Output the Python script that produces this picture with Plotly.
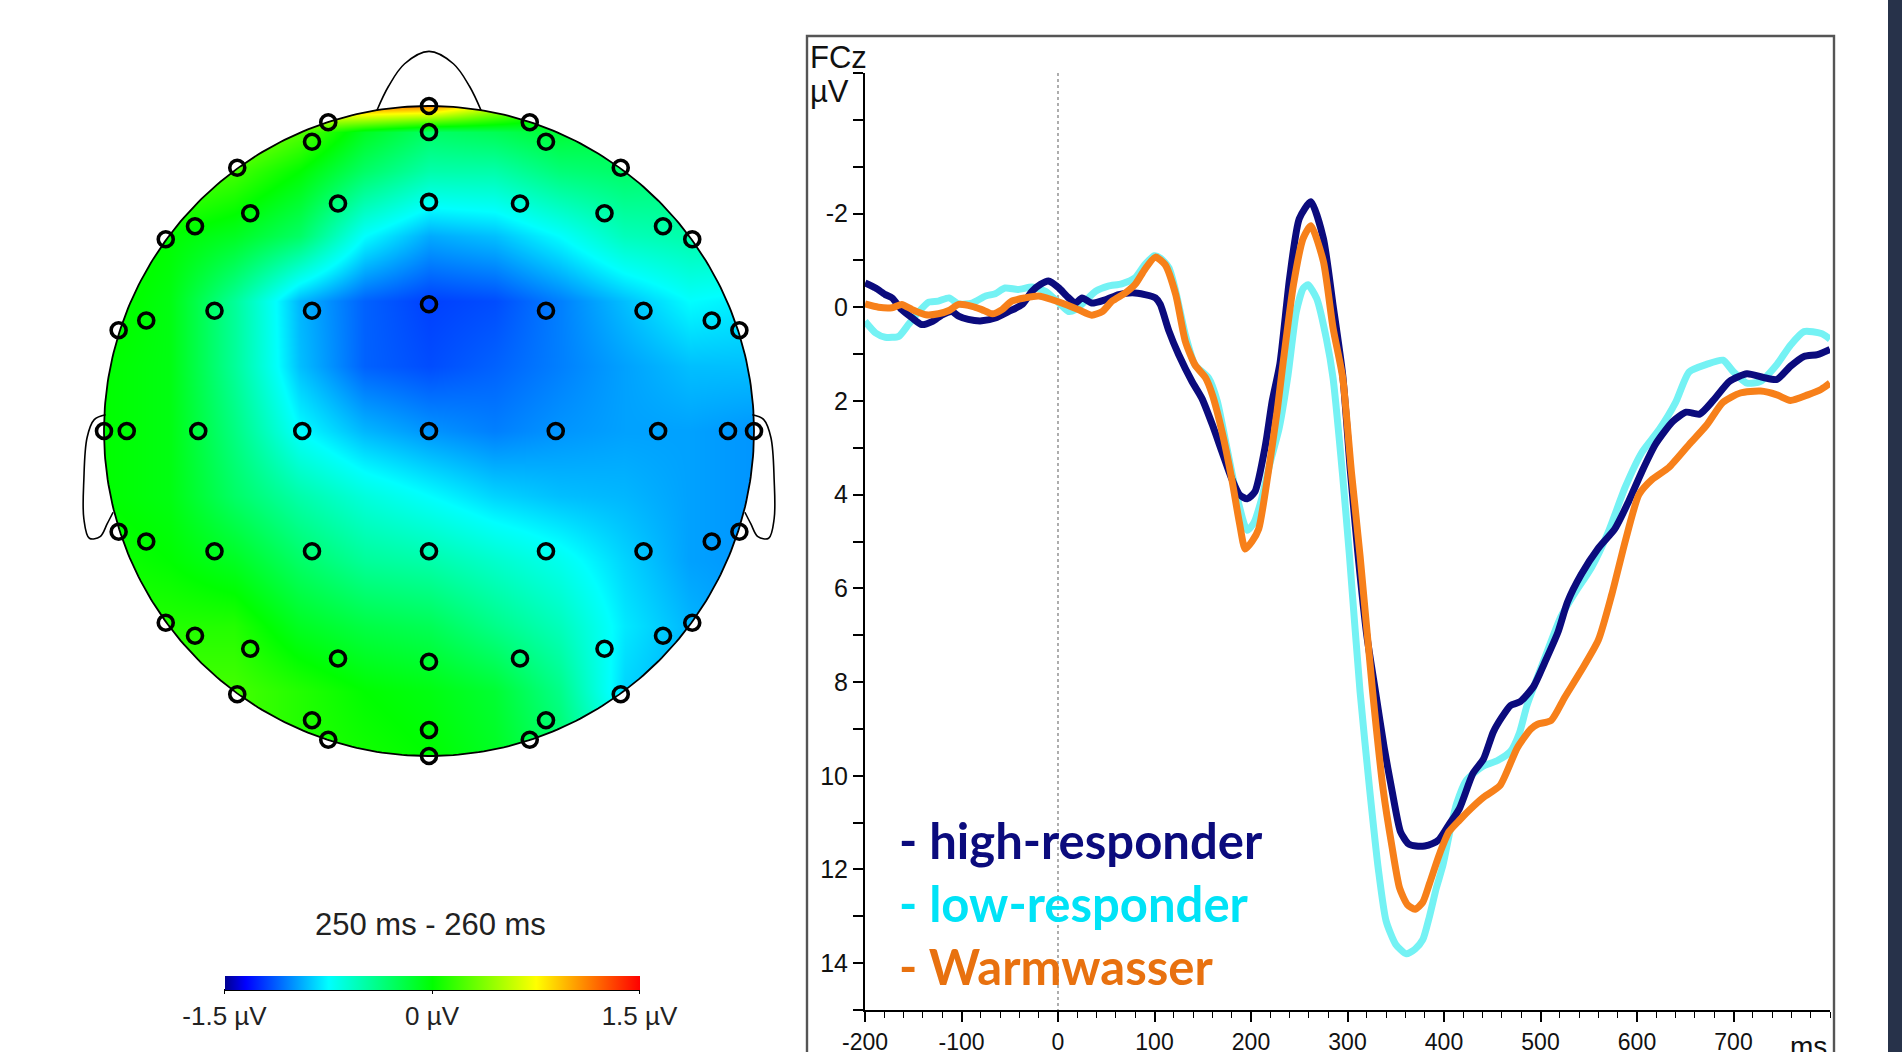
import numpy as np
import plotly.graph_objects as go

W, H = 1902, 1052


def px(x):
    return x / W


def py(y):
    return 1 - y / H


# ---------------- ERP data (FCz, µV; negative up) ----------------
HIGH_T = [-200, -189, -179, -172, -162, -151, -141, -130, -120, -110,
          -103, -93, -79, -65, -51, -37, -27, -18, -10, 1,
          9, 18, 25, 35, 49, 63, 77, 90, 101, 106,
          115, 125, 139, 149, 160, 170, 180, 188, 196, 204,
          215, 222, 230, 240, 250, 262, 275, 285, 295, 303,
          311, 320, 329, 338, 346, 355, 363, 371, 380, 388,
          395, 405, 416, 430, 441, 451, 460, 469, 479, 493,
          504, 518, 528, 542, 560, 577, 591, 605, 619, 637,
          651, 665, 679, 696, 714, 731, 745, 759, 773, 787,
          800]
HIGH_UV = [-0.52, -0.41, -0.27, -0.2, 0.05, 0.23, 0.37, 0.3, 0.16, 0.09,
           0.19, 0.26, 0.29, 0.23, 0.09, -0.06, -0.34, -0.49, -0.56, -0.41,
           -0.24, -0.09, -0.2, -0.09, -0.16, -0.27, -0.31, -0.27, -0.2, -0.06,
           0.51, 1.01, 1.59, 1.94, 2.51, 3.09, 3.66, 4.0, 4.09, 3.94,
           2.94, 2.0, 1.2, -0.62, -1.89, -2.25, -1.47, -0.05, 1.44, 3.5,
           5.3, 7.0, 8.2, 9.4, 10.3, 11.2, 11.45, 11.5, 11.5, 11.45,
           11.36, 11.05, 10.7, 9.95, 9.64, 9.07, 8.75, 8.5, 8.42, 8.09,
           7.6, 6.94, 6.29, 5.71, 5.14, 4.73, 4.16, 3.51, 2.93, 2.44,
           2.24, 2.28, 1.99, 1.58, 1.42, 1.50, 1.54, 1.26, 1.05, 1.01,
           0.9]

LOW = [(-200, 0.3), (-189, 0.55), (-179, 0.64), (-165, 0.62), (-155, 0.37),
       (-144, 0.09), (-134, -0.11), (-124, -0.13), (-113, -0.2), (-103, -0.07),
       (-89, -0.09), (-75, -0.24), (-65, -0.29), (-55, -0.41), (-41, -0.38),
       (-27, -0.43), (-13, -0.34), (1, -0.09), (11, 0.09), (18, 0.05),
       (28, -0.13), (39, -0.34), (52, -0.45), (66, -0.5), (80, -0.63),
       (90, -0.91), (100, -1.1), (106, -1.05), (115, -0.84), (122, -0.34),
       (132, 0.59), (142, 1.23), (156, 1.51), (165, 2.0), (175, 3.0),
       (185, 4.0), (196, 4.76), (203, 4.6), (211, 4.09), (220, 3.3),
       (229, 2.6), (238, 1.5), (247, 0.09), (254, -0.4), (259, -0.48),
       (268, -0.19), (278, 0.66), (285, 1.51), (295, 3.6), (302, 5.3),
       (313, 8.2), (323, 10.3), (332, 12.0), (340, 13.1), (350, 13.6),
       (361, 13.8), (370, 13.7), (378, 13.5), (385, 13.0), (392, 12.4),
       (399, 11.9), (406, 11.2), (413, 10.6), (423, 10.1), (440, 9.8),
       (455, 9.68), (469, 9.48), (478, 9.1), (486, 8.5), (504, 7.51),
       (521, 6.61), (535, 6.12), (553, 5.55), (570, 4.81), (588, 3.83),
       (605, 3.1), (623, 2.61), (640, 2.03), (654, 1.38), (672, 1.22),
       (689, 1.13), (700, 1.38), (714, 1.62), (728, 1.58), (745, 1.22),
       (759, 0.81), (773, 0.52), (791, 0.56), (800, 0.68)]

WARM = [(-200, -0.07), (-186, 0.0), (-172, 0.01), (-162, -0.06), (-151, 0.05),
        (-137, 0.16), (-124, 0.14), (-113, 0.07), (-103, -0.06), (-89, -0.02),
        (-79, 0.05), (-68, 0.14), (-58, 0.05), (-48, -0.13), (-34, -0.2),
        (-20, -0.24), (-6, -0.16), (8, -0.06), (21, 0.05), (35, 0.17),
        (46, 0.09), (56, -0.13), (70, -0.31), (80, -0.49), (90, -0.81),
        (101, -1.07), (111, -0.91), (122, -0.27), (132, 0.73), (142, 1.23),
        (153, 1.51), (160, 1.87), (170, 2.66), (180, 3.66), (188, 4.6),
        (194, 5.16), (201, 5.0), (208, 4.73), (218, 3.51), (227, 2.23),
        (233, 1.23), (244, -0.48), (254, -1.47), (262, -1.74), (275, -0.98),
        (285, 0.44), (295, 1.5), (304, 3.5), (313, 5.3), (326, 8.2),
        (337, 10.3), (346, 11.5), (354, 12.4), (362, 12.75), (370, 12.85),
        (378, 12.7), (385, 12.3), (395, 11.69), (405, 11.2), (416, 10.95),
        (428, 10.7), (441, 10.46), (458, 10.21), (476, 9.4), (490, 9.0),
        (497, 8.9), (511, 8.82), (525, 8.33), (542, 7.76), (560, 7.1),
        (574, 6.12), (588, 4.98), (602, 4.0), (616, 3.67), (633, 3.42),
        (654, 2.93), (672, 2.52), (689, 2.03), (707, 1.83), (728, 1.79),
        (745, 1.87), (759, 1.99), (777, 1.87), (791, 1.75), (800, 1.62)]

SERIES_NAMES = ["high-responder", "low-responder", "Warmwasser"]
LINE_COLORS = ["#0b0b7d", "#74f2f4", "#f7801a"]
TEXT_COLORS = ["#0b0b7d", "#00e3f7", "#e8710f"]

X_TICKS = [-200, -100, 0, 100, 200, 300, 400, 500, 600, 700]
Y_TICKS = list(range(-5, 16))
Y_LABELS = [str(v) if (v % 2 == 0 and -2 <= v <= 14) else "" for v in Y_TICKS]

# ---------------- Topomap data (250-260 ms) ----------------
MAP_U = [-1.0, -0.8, -0.6, -0.4, -0.2, 0.0, 0.2, 0.4, 0.6, 0.8, 1.0]
MAP_V = [1.0, 0.92, 0.8, 0.6, 0.4, 0.2, 0.0, -0.2, -0.4, -0.6, -0.8, -1.0]
MAP_Z = [
    [0.3, 0.5, 0.7, 0.9, 1.15, 1.1, 0.6, 0.0, -0.2, -0.3, -0.4],
    [0.2, 0.35, 0.45, 0.25, -0.1, -0.3, -0.25, -0.15, -0.2, -0.3, -0.4],
    [0.3, 0.3, 0.2, 0.0, -0.3, -0.5, -0.5, -0.35, -0.3, -0.35, -0.45],
    [0.1, 0.0, -0.1, -0.3, -0.75, -0.95, -0.9, -0.75, -0.55, -0.5, -0.5],
    [0.05, -0.05, -0.45, -0.92, -1.12, -1.2, -1.17, -1.05, -0.9, -0.75, -0.8],
    [0.0, -0.05, -0.45, -0.9, -1.12, -1.17, -1.12, -1.05, -0.97, -0.9, -0.9],
    [0.0, -0.05, -0.38, -0.75, -0.92, -1.0, -1.05, -1.0, -0.97, -0.97, -1.0],
    [0.0, -0.05, -0.3, -0.5, -0.65, -0.75, -0.85, -0.9, -0.92, -0.97, -1.0],
    [0.05, 0.0, -0.1, -0.3, -0.45, -0.5, -0.6, -0.7, -0.85, -0.97, -1.0],
    [0.1, 0.1, 0.1, -0.1, -0.2, -0.25, -0.4, -0.55, -0.8, -0.92, -1.0],
    [0.2, 0.2, 0.2, 0.1, 0.0, -0.05, -0.15, -0.4, -0.85, -0.95, -1.0],
    [0.2, 0.2, 0.2, 0.1, 0.05, 0.0, -0.1, -0.3, -0.7, -0.95, -1.0],
]
CB_TICKS = [-1.5, 0, 1.5]
CB_LABELS = ["-1.5 µV", "0 µV", "1.5 µV"]
MAP_TITLE = "250 ms - 260 ms"

ELEC_U = [0, 0, -0.31, -0.36, 0.31, 0.36, -0.59, 0.59, -0.28, 0, 0.28, -0.55, 0.54,
          -0.72, -0.81, 0.72, 0.81,
          -0.955, -0.87, -0.66, -0.36, 0, 0.36, 0.66, 0.87, 0.955,
          -1.0, -0.93, -0.71, -0.39, 0, 0.39, 0.705, 0.92, 1.0,
          -0.955, -0.87, -0.66, -0.36, 0, 0.36, 0.66, 0.87, 0.955,
          -0.81, -0.72, -0.55, -0.28, 0, 0.28, 0.54, 0.72, 0.81,
          -0.59, 0.59, -0.36, -0.31, 0, 0, 0.31, 0.36]
ELEC_V = [1.0, 0.92, 0.95, 0.89, 0.95, 0.89, 0.81, 0.81, 0.70, 0.705, 0.70, 0.67, 0.67,
          0.63, 0.59, 0.63, 0.59,
          0.31, 0.34, 0.37, 0.37, 0.39, 0.37, 0.37, 0.34, 0.31,
          0, 0, 0, 0, 0, 0, 0, 0, 0,
          -0.31, -0.34, -0.37, -0.37, -0.37, -0.37, -0.37, -0.34, -0.31,
          -0.59, -0.63, -0.67, -0.70, -0.71, -0.70, -0.67, -0.63, -0.59,
          -0.81, -0.81, -0.89, -0.95, -0.92, -1.0, -0.95, -0.89]

# head outline decorations (unit-circle coordinates)
NOSE_U = [-0.16, -0.125, -0.075, 0.0, 0.075, 0.125, 0.16]
NOSE_V = [0.987, 1.06, 1.13, 1.168, 1.13, 1.06, 0.987]
EAR_U = [-0.995, -1.03, -1.052, -1.062, -1.062, -1.045, -1.012, -0.99, -0.972]
EAR_V = [0.05, 0.035, -0.02, -0.15, -0.27, -0.33, -0.325, -0.285, -0.25]

JET = [[0.0, "#00008f"], [0.05, "#0000ff"], [0.25, "#00ffff"],
       [0.5, "#00ff00"], [0.75, "#ffff00"], [1.0, "#ff0000"]]

FONT = "Liberation Sans, Arial, sans-serif"

fig = go.Figure()

# ---- topomap ----
fig.add_trace(go.Heatmap(
    x=MAP_U, y=MAP_V[::-1], z=MAP_Z[::-1], zmin=-1.5, zmax=1.5,
    colorscale=JET, zsmooth="best", xaxis="x2", yaxis="y2", hoverinfo="skip",
    colorbar=dict(orientation="h", x=px(432), xanchor="center",
                  y=py(976), yanchor="top", len=415, lenmode="pixels",
                  thickness=14, thicknessmode="pixels", outlinewidth=0,
                  xpad=0, ypad=0, tickvals=CB_TICKS, ticktext=CB_LABELS,
                  ticks="outside", ticklen=4, tickcolor="black",
                  tickfont=dict(size=26, color="#222", family=FONT))))

# white mask outside the head circle (two overlapping halves)
e = 0.04
R = 1.15
th_top = np.linspace(np.pi + np.arcsin(e), -np.arcsin(e), 200)
mx = [R, R, -R, -R] + list(np.cos(th_top)) + [R]
my = [-e, R, R, -e] + list(np.sin(th_top)) + [-e]
for sgn in (1, -1):
    fig.add_trace(go.Scatter(x=mx, y=[sgn * v for v in my], mode="lines", fill="toself",
                             fillcolor="white", line=dict(width=0, color="white"),
                             xaxis="x2", yaxis="y2", hoverinfo="skip"))

th = np.linspace(0, 2 * np.pi, 400)
fig.add_trace(go.Scatter(x=np.cos(th), y=np.sin(th), mode="lines",
                         line=dict(color="black", width=1.8),
                         xaxis="x2", yaxis="y2", hoverinfo="skip"))
fig.add_trace(go.Scatter(x=NOSE_U, y=NOSE_V, mode="lines",
                         line=dict(color="black", width=1.6, shape="spline"),
                         xaxis="x2", yaxis="y2", hoverinfo="skip"))
for sgn in (1, -1):
    fig.add_trace(go.Scatter(x=[sgn * u for u in EAR_U], y=EAR_V, mode="lines",
                             line=dict(color="black", width=1.6, shape="spline"),
                             xaxis="x2", yaxis="y2", hoverinfo="skip"))
fig.add_trace(go.Scatter(x=ELEC_U, y=ELEC_V, mode="markers",
                         marker=dict(symbol="circle-open", size=15, color="black",
                                     line=dict(color="black", width=3.6)),
                         xaxis="x2", yaxis="y2", hoverinfo="skip"))

# ---- ERP curves ----
low_t, low_uv = zip(*LOW)
warm_t, warm_uv = zip(*WARM)
for (t, v, c) in [(low_t, low_uv, LINE_COLORS[1]),
                  (HIGH_T, HIGH_UV, LINE_COLORS[0]),
                  (warm_t, warm_uv, LINE_COLORS[2])]:
    fig.add_trace(go.Scatter(x=list(t), y=list(v), mode="lines",
                             line=dict(color=c, width=7, shape="spline", smoothing=0.6),
                             xaxis="x", yaxis="y", hoverinfo="skip"))

fig.update_layout(
    width=W, height=H, margin=dict(l=0, r=0, t=0, b=0, autoexpand=False),
    paper_bgcolor="white", plot_bgcolor="rgba(0,0,0,0)", showlegend=False,
    font=dict(family=FONT, color="#111"),
    xaxis=dict(domain=[px(865), px(1830)], range=[-200, 800], anchor="y",
               automargin=False,
               showline=True, linecolor="black", linewidth=2, showgrid=False,
               zeroline=False, ticks="outside", ticklen=10, tickwidth=1.6,
               tickcolor="black", tickmode="array", tickvals=X_TICKS,
               ticktext=[str(v) for v in X_TICKS],
               tickfont=dict(size=23, color="#111"),
               minor=dict(tickmode="array", tickvals=list(range(-200, 801, 20)),
                          ticks="outside", ticklen=6, tickwidth=1.3, tickcolor="black")),
    yaxis=dict(domain=[py(1010), py(73)], range=[15, -5], anchor="x",
               automargin=False,
               showline=True, linecolor="black", linewidth=2, showgrid=False,
               zeroline=False, ticks="outside", ticklen=10, tickwidth=1.6,
               tickcolor="black", tickmode="array", tickvals=Y_TICKS,
               ticktext=Y_LABELS, tickfont=dict(size=25, color="#111")),
    xaxis2=dict(domain=[px(39), px(819)], range=[-1.2, 1.2], visible=False,
                anchor="y2", automargin=False),
    yaxis2=dict(domain=[py(821), py(41)], range=[-1.2, 1.2], visible=False,
                anchor="x2", automargin=False),
)

shapes = [
    dict(type="rect", xref="paper", yref="paper", x0=px(807), x1=px(1834),
         y0=-0.1, y1=py(36), line=dict(color="#555", width=2.4), layer="above"),
    dict(type="line", xref="x", yref="y", x0=0, x1=0, y0=-5, y1=15,
         line=dict(color="#9a9a9a", width=1.6, dash="dot"), layer="below"),
    dict(type="line", xref="paper", yref="paper", x0=px(224), x1=px(640),
         y0=py(990), y1=py(990), line=dict(color="black", width=2)),
    dict(type="rect", xref="paper", yref="paper", x0=px(1888), x1=1.0,
         y0=0.0, y1=1.0, fillcolor="#27324a", line=dict(width=0), layer="above"),
]
fig.update_layout(shapes=shapes)

ann = [
    dict(text="FCz", x=px(808), y=py(58), xanchor="left", yanchor="middle",
         font=dict(size=31, color="#111")),
    dict(text="µV", x=px(808), y=py(92), xanchor="left", yanchor="middle",
         font=dict(size=31, color="#111")),
    dict(text="ms", x=px(1808), y=py(1046), xanchor="center", yanchor="middle",
         font=dict(size=28, color="#111")),
    dict(text=MAP_TITLE, x=px(430), y=py(924), xanchor="center", yanchor="middle",
         font=dict(size=31, color="#222")),
]
for name, col, yy in zip(SERIES_NAMES, TEXT_COLORS, [840, 903, 966]):
    ann.append(dict(text="<b>- " + name + "</b>", x=px(897), y=py(yy),
                    xanchor="left", yanchor="middle",
                    font=dict(family="Lato, Open Sans, sans-serif", size=49, color=col)))
for a in ann:
    a.update(xref="paper", yref="paper", showarrow=False)
fig.update_layout(annotations=ann)

fig.write_html("out.html",
               config={"displayModeBar": False},
               post_script="document.body.style.margin='0';"
                           "document.documentElement.style.overflow='hidden';"
                           "document.body.style.overflow='hidden';")
